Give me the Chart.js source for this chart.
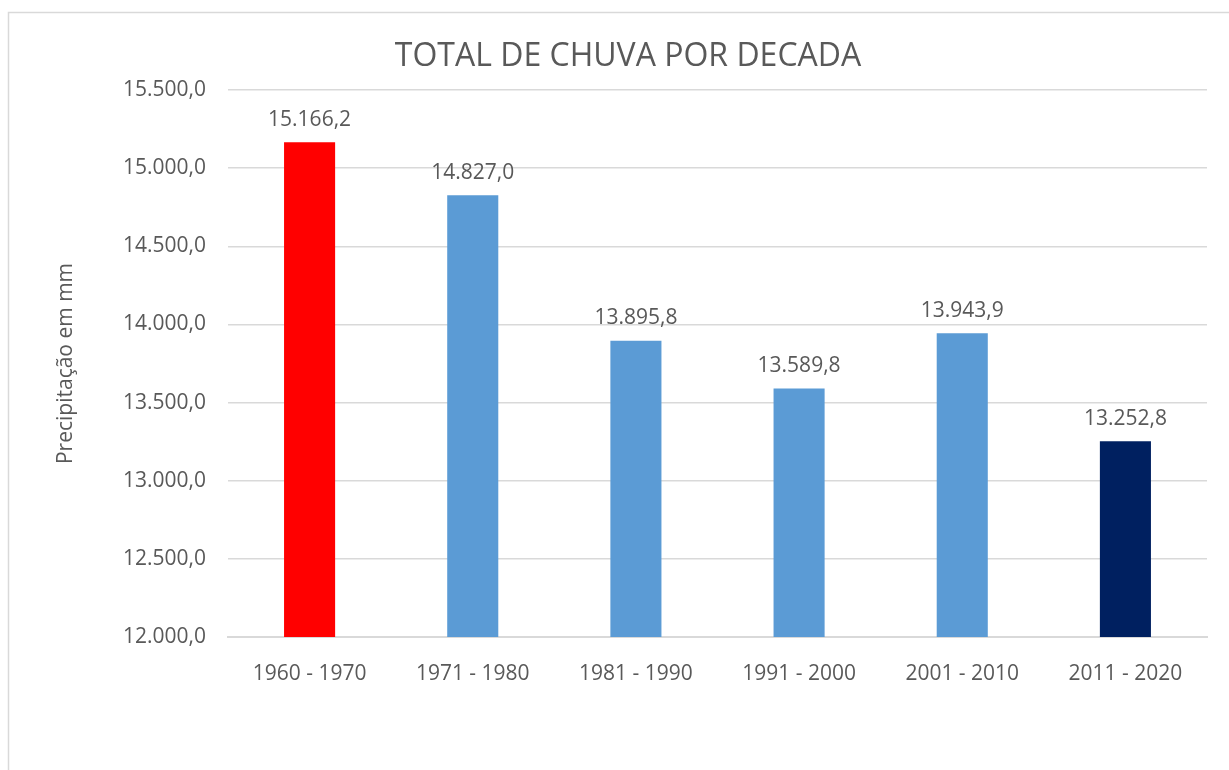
<!DOCTYPE html>
<html>
<head>
<meta charset="utf-8">
<script src="https://cdn.jsdelivr.net/npm/chart.js@4/dist/chart.umd.min.js"></script>
<style>
  html, body { margin: 0; padding: 0; background: #fff; }
  #wrap { width: 1229px; height: 770px; position: relative; }
</style>
</head>
<body>
<div id="wrap"><canvas id="myChart"></canvas></div>
<script>
const decades = ['1960 - 1970', '1971 - 1980', '1981 - 1990', '1991 - 2000', '2001 - 2010', '2011 - 2020'];
const rainfall = [15166.2, 14827.0, 13895.8, 13589.8, 13943.9, 13252.8];
const barColors = ['#FF0000', '#5B9BD5', '#5B9BD5', '#5B9BD5', '#5B9BD5', '#002060'];
const chartTitle = 'TOTAL DE CHUVA POR DECADA';
const yTitle = 'Precipitação em mm';

const textColor = '#595959';
const fontFamily = "'Open Sans', sans-serif";

// "15500" -> "15.500,0"
const fmt = (v) => {
    const [int, dec] = Number(v).toFixed(1).split('.');
    return int.replace(/\B(?=(\d{3})+(?!\d))/g, '.') + ',' + dec;
};

// border box, title and value labels
const decorations = {
    id: 'decorations',
    beforeDraw(chart) {
        const ctx = chart.ctx;
        ctx.save();
        ctx.strokeStyle = '#D9D9D9';
        ctx.lineWidth = 1.5;
        ctx.strokeRect(8.5, 12.5, 1300, 900);
        ctx.fillStyle = textColor;
        ctx.font = "32px " + fontFamily;
        ctx.textAlign = 'center';
        ctx.textBaseline = 'middle';
        ctx.fillText(chartTitle, 628, 57);
        ctx.restore();
    },
    afterDatasetsDraw(chart) {
        const ctx = chart.ctx;
        const meta = chart.getDatasetMeta(0);
        ctx.save();
        ctx.fillStyle = textColor;
        ctx.font = "21px " + fontFamily;
        ctx.textAlign = 'center';
        ctx.textBaseline = 'bottom';
        meta.data.forEach((bar, i) => {
            ctx.fillText(fmt(rainfall[i]), bar.x, bar.y - 12);
        });
        ctx.restore();
    }
};

const ChartRef = document.getElementById('myChart').getContext('2d');
new Chart(ChartRef, {
    type: 'bar',
    data: {
        labels: decades,
        datasets: [{
            data: rainfall,
            backgroundColor: barColors,
            borderWidth: 0,
            categoryPercentage: 1,
            barPercentage: 0.313
        }]
    },
    options: {
        responsive: true,
        maintainAspectRatio: false,
        animation: false,
        layout: { padding: { top: 90, right: 22, left: 0, bottom: 0 } },
        plugins: {
            legend: { display: false },
            title: { display: false },
            tooltip: { enabled: false }
        },
        scales: {
            x: {
                grid: { display: false },
                border: { display: true, color: '#D9D9D9', width: 2 },
                ticks: { color: textColor, font: { family: fontFamily, size: 21 }, padding: 16, maxRotation: 0 },
                afterFit: (scale) => { scale.height = 133; }
            },
            y: {
                min: 12000,
                max: 15500,
                ticks: { stepSize: 500, color: textColor, font: { family: fontFamily, size: 21 }, padding: 22, callback: (v) => fmt(v) },
                grid: { color: '#D9D9D9', lineWidth: 1.5, drawTicks: false },
                border: { display: false },
                title: { display: true, text: yTitle, color: textColor, font: { family: fontFamily, size: 21 }, padding: { top: 53, bottom: 0 } },
                afterFit: (scale) => { scale.width = 228; }
            }
        }
    },
    plugins: [decorations]
});
</script>
</body>
</html>
